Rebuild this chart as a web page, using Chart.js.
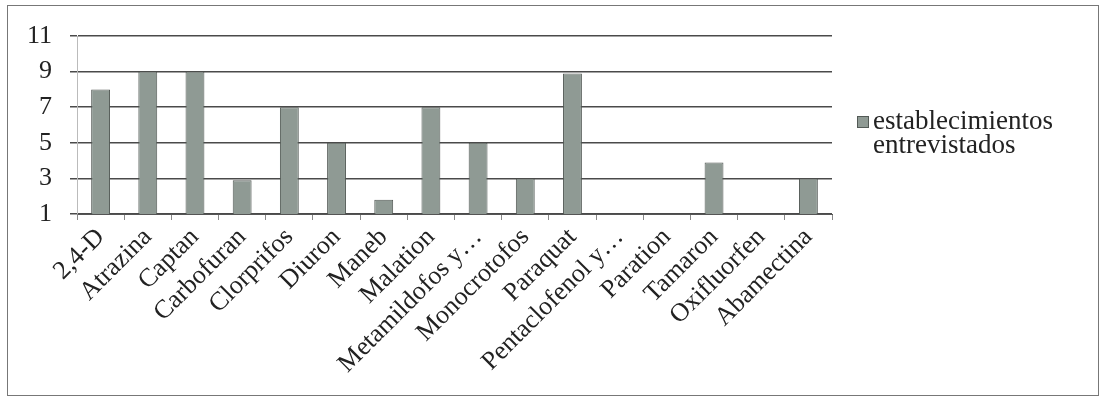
<!DOCTYPE html>
<html>
<head>
<meta charset="utf-8">
<script src="https://cdn.jsdelivr.net/npm/chart.js@4/dist/chart.umd.min.js"></script>
<style>
  body { margin: 0; background: #fff; }
  #wrap { position: relative; width: 1103px; height: 401px; }
  #frame { position: absolute; left: 7px; top: 5px; width: 1092px; height: 391px; border: 1px solid #777; box-sizing: border-box; pointer-events: none; }
  #chart { position: absolute; left: 0; top: 0; }
</style>
</head>
<body>
<div id="wrap">
  <canvas id="chart" width="1103" height="401"></canvas>
  <div id="frame"></div>
</div>
<script>
// pesticide names as printed under the bars
const categories = [
  "2,4-D", "Atrazina", "Captan", "Carbofuran", "Clorprifos", "Diuron",
  "Maneb", "Malation", "Metamildofos y…", "Monocrotofos", "Paraquat",
  "Pentaclofenol y…", "Paration", "Tamaron", "Oxifluorfen", "Abamectina"
];
const establecimientos = [8, 9, 9, 2.9, 7, 5, 1.8, 7, 5, 3, 8.9, 1, 1, 3.9, 1, 3];
const yTicks = [1, 3, 5, 7, 9, 11];
const seriesLabel = "establecimientos entrevistados";

const FONT = "'Liberation Serif', 'Times New Roman', serif";

// legend drawn to the right, label wrapped on two lines like the original
const sideLegend = {
  id: "sideLegend",
  afterDraw(chart) {
    const ctx = chart.ctx;
    const ds = chart.data.datasets[0];
    const lines = ds.label.split(" ");
    ctx.save();
    ctx.fillStyle = ds.backgroundColor;
    ctx.strokeStyle = ds.borderColor;
    ctx.fillRect(857, 116, 12, 12);
    ctx.strokeRect(857.5, 116.5, 11, 11);
    ctx.fillStyle = "#222";
    ctx.font = "27px " + FONT;
    ctx.textBaseline = "alphabetic";
    lines.forEach((t, i) => ctx.fillText(t, 873, 129 + i * 24));
    ctx.restore();
  }
};

new Chart(document.getElementById("chart").getContext("2d"), {
  type: "bar",
  data: {
    labels: categories,
    datasets: [
      {
        label: seriesLabel,
        data: establecimientos,
        backgroundColor: "#8f9a94",
        borderColor: "#535a56",
        borderWidth: 1,
        barPercentage: 0.4,
        categoryPercentage: 1.0,
      },
    ],
  },
  options: {
    responsive: false,
    animation: false,
    layout: { padding: { top: 36, right: 271, left: 0, bottom: 0 } },
    plugins: {
      legend: { display: false },
      tooltip: { enabled: false },
    },
    scales: {
      x: {
        grid: { drawOnChartArea: false, drawTicks: true, tickLength: 6, color: "#888" },
        border: { display: true, color: "#555" },
        ticks: {
          autoSkip: false,
          minRotation: 45,
          maxRotation: 45,
          padding: 2,
          color: "#222",
          font: { family: FONT, size: 26 },
        },
        afterFit(scale) { scale.height = 187; },
      },
      y: {
        min: 1,
        max: 11,
        afterBuildTicks(scale) { scale.ticks = yTicks.map((v) => ({ value: v })); },
        grid: { color: "#4a4a4a", lineWidth: 1.5, tickLength: 7 },
        border: { display: true, color: "#bbb" },
        ticks: {
          padding: 18,
          color: "#222",
          font: { family: FONT, size: 26 },
        },
        afterFit(scale) { scale.width = 77; },
      },
    },
  },
  plugins: [sideLegend],
});
</script>
</body>
</html>
